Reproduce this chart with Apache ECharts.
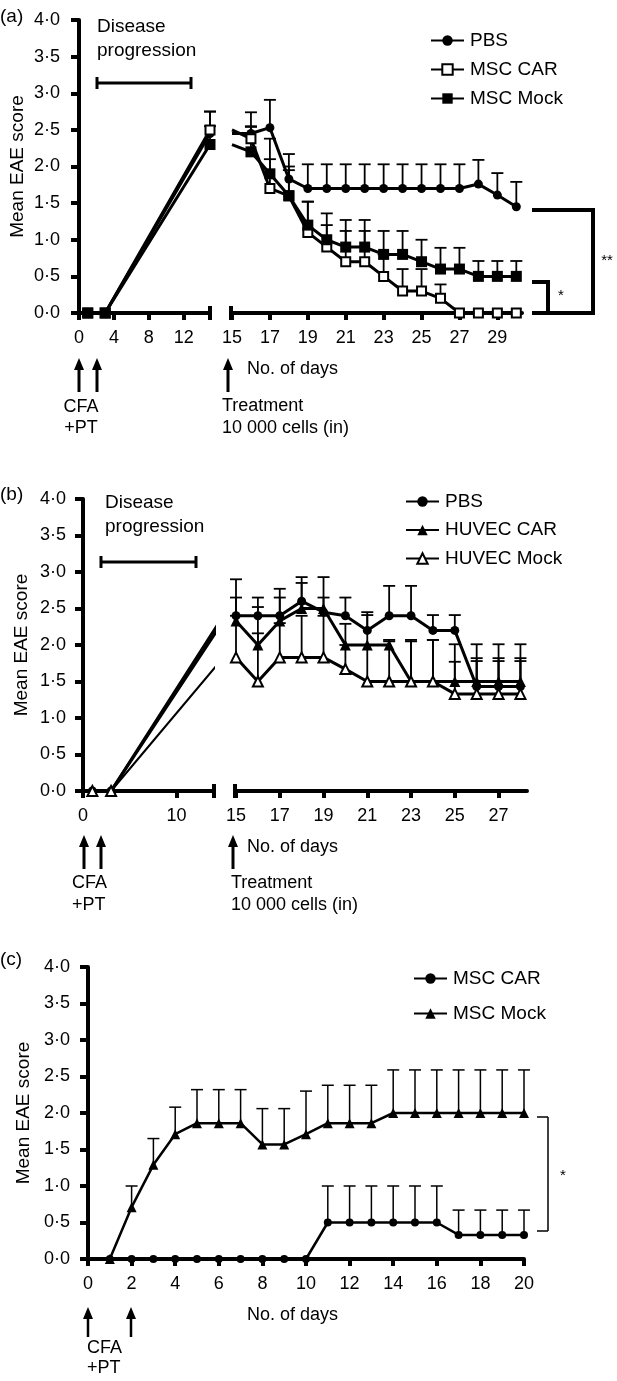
<!DOCTYPE html>
<html><head><meta charset="utf-8">
<script src="https://cdn.jsdelivr.net/npm/echarts@6/dist/echarts.min.js"></script>
<style>html,body{margin:0;padding:0;background:#fff}#c{width:617px;height:1381px}</style>
</head><body><div id="c"></div>
<script>
const FONT = '"Liberation Sans", Arial, Helvetica, sans-serif';

// ---------------- Panel (a) ----------------
const aDaysL = [1, 3, 15];
const aPBSL  = [0, 0, 2.45];
const aCARL  = [0, 0, 2.5];
const aMockL = [0, 0, 2.3];
const aPBSLErr  = [null, null, 2.75];
const aCARLErr  = [null, null, 2.75];
const aMockLErr = [null, null, 2.55];
const aDaysR = [15, 16, 17, 18, 19, 20, 21, 22, 23, 24, 25, 26, 27, 28, 29, 30];
const aPBSR  = [2.45, 2.45, 2.53, 1.83, 1.7, 1.7, 1.7, 1.7, 1.7, 1.7, 1.7, 1.7, 1.7, 1.76, 1.61, 1.45];
const aPBSRErr = [null, 2.74, 2.91, 2.17, 2.03, 2.03, 2.03, 2.03, 2.03, 2.03, 2.03, 2.03, 2.03, 2.09, 1.91, 1.79];
const aCARR  = [2.5, 2.38, 1.7, 1.6, 1.1, 0.9, 0.7, 0.7, 0.5, 0.3, 0.3, 0.2, 0, 0, 0, 0];
const aCARRErr = [null, 2.54, 2.1, 1.95, 1.52, 1.2, 1.12, 1.12, 0.8, 0.6, 0.6, 0.39, null, null, null, null];
const aMockR = [2.3, 2.2, 1.9, 1.6, 1.2, 1.0, 0.9, 0.9, 0.8, 0.8, 0.7, 0.6, 0.6, 0.5, 0.5, 0.5];
const aMockRErr = [null, 2.55, 2.38, 2.0, 1.52, 1.36, 1.27, 1.27, 1.12, 1.12, 1.0, 0.89, 0.89, 0.71, 0.71, 0.71];
const aTicksL = [0, 4, 8, 12];
const aTicksR = [15, 17, 19, 21, 23, 25, 27, 29];

// ---------------- Panel (b) ----------------
const bDaysL = [1, 3, 15];
const bPBSL  = [0, 0, 2.4];
const bCARL  = [0, 0, 2.33];
const bMockL = [0, 0, 1.83];
const bDaysR = [15, 16, 17, 18, 19, 20, 21, 22, 23, 24, 25, 26, 27, 28];
const bPBSR  = [2.4, 2.4, 2.4, 2.6, 2.45, 2.4, 2.2, 2.4, 2.4, 2.2, 2.2, 1.43, 1.43, 1.43];
const bPBSRErr = [2.9, 2.65, 2.77, 2.93, 2.93, 2.65, 2.45, 2.81, 2.81, 2.41, 2.41, 2.01, 2.01, 2.01];
const bCARR  = [2.33, 2.0, 2.33, 2.5, 2.5, 2.0, 2.0, 2.0, 1.5, 1.5, 1.5, 1.5, 1.5, 1.5];
const bCARRErr = [2.65, 2.52, 2.65, 2.85, 2.65, 2.29, 2.41, 2.07, 2.07, 2.07, 1.77, 1.82, 1.82, 1.82];
const bMockR = [1.83, 1.5, 1.83, 1.83, 1.83, 1.67, 1.5, 1.5, 1.5, 1.5, 1.33, 1.33, 1.33, 1.33];
const bMockRErr = [2.4, 2.16, 2.3, 2.4, 2.4, 2.0, 2.0, 2.05, 2.05, 2.07, 2.01, 1.78, 1.78, 1.78];
const bTicksL = [0, 10];
const bTicksR = [15, 17, 19, 21, 23, 25, 27];

// ---------------- Panel (c) ----------------
const cDays = [1, 2, 3, 4, 5, 6, 7, 8, 9, 10, 11, 12, 13, 14, 15, 16, 17, 18, 19, 20];
const cCAR  = [0, 0, 0, 0, 0, 0, 0, 0, 0, 0, 0.5, 0.5, 0.5, 0.5, 0.5, 0.5, 0.33, 0.33, 0.33, 0.33];
const cCARErr = [null, null, null, null, null, null, null, null, null, null, 1.0, 1.0, 1.0, 1.0, 1.0, 1.0, 0.67, 0.67, 0.67, 0.67];
const cMock = [0, 0.71, 1.29, 1.71, 1.86, 1.86, 1.86, 1.57, 1.57, 1.71, 1.86, 1.86, 1.86, 2.0, 2.0, 2.0, 2.0, 2.0, 2.0, 2.0];
const cMockErr = [null, 1.0, 1.65, 2.08, 2.32, 2.32, 2.32, 2.06, 2.06, 2.3, 2.38, 2.38, 2.38, 2.59, 2.59, 2.59, 2.59, 2.59, 2.59, 2.59];

const yLabels = v => v.toFixed(1).replace('.', '\u00B7');

// ---------- grids & axes ----------
const grids = [
  {left: 79, top: 20, width: 131, height: 293},    // a left
  {left: 232, top: 20, width: 290, height: 293},   // a right
  {left: 83, top: 499, width: 131, height: 292},   // b left
  {left: 236, top: 499, width: 291, height: 292},  // b right
  {left: 88, top: 967, width: 436, height: 292}    // c
];
const AXW = 4;
function xAx(gi, min, max, ticks) {
  return {type: 'value', gridIndex: gi, min, max,
    axisLine: {show: true, lineStyle: {color: '#000', width: AXW}},
    axisTick: {show: true, length: 7, lineStyle: {color: '#000', width: AXW}, customValues: ticks},
    axisLabel: {show: true, customValues: ticks, color: '#000', fontSize: 18, fontFamily: FONT, margin: 16},
    splitLine: {show: false}};
}
function yAx(gi, show, margin) {
  return {type: 'value', gridIndex: gi, min: 0, max: 4, interval: 0.5,
    name: show ? 'Mean EAE score' : '', nameLocation: 'middle', nameGap: 52,
    nameTextStyle: {color: '#000', fontSize: 19, fontFamily: FONT},
    axisLine: {show: show, lineStyle: {color: '#000', width: AXW}},
    axisTick: {show: show, length: 8, lineStyle: {color: '#000', width: AXW}},
    axisLabel: {show: show, color: '#000', fontSize: 18, fontFamily: FONT, margin: margin || 19, formatter: yLabels},
    splitLine: {show: false}};
}
const xAxes = [
  xAx(0, 0, 15, aTicksL), xAx(1, 15, 30.3, aTicksR),
  xAx(2, 0, 14, bTicksL), xAx(3, 15, 28.3, bTicksR),
  Object.assign(xAx(4, 0, 20, null), {interval: 2, axisTick: {show: true, length: 7, lineStyle: {color: '#000', width: AXW}}, axisLabel: {color: '#000', fontSize: 18, fontFamily: FONT, margin: 16}})
];
const yAxes = [yAx(0, true, 19), yAx(1, false), yAx(2, true, 17), yAx(3, false), yAx(4, true, 18)];

// ---------- series helpers ----------
function line(name, gi, days, vals, symbol, size, lw, hideFirst) {
  const empty = symbol.indexOf('empty') === 0;
  return {type: 'line', name, xAxisIndex: gi, yAxisIndex: gi, z: 3,
    data: days.map((d, i) => (hideFirst && i === 0) ? {value: [d, vals[i]], symbol: 'none'} : [d, vals[i]]),
    symbol, symbolSize: size, showAllSymbol: true, animation: false,
    lineStyle: {color: '#000', width: lw},
    itemStyle: {color: '#000', borderColor: '#000', borderWidth: empty ? 2.6 : 0},
    emphasis: {disabled: true}};
}
function errRender(lw, hw) {
  return function (params, api) {
    const x = api.value(0), v = api.value(1), t = api.value(2);
    const p0 = api.coord([x, v]), p1 = api.coord([x, t]);
    return {type: 'group', children: [
      {type: 'line', shape: {x1: p0[0], y1: p0[1], x2: p1[0], y2: p1[1]}, style: {stroke: '#000', lineWidth: lw}},
      {type: 'line', shape: {x1: p1[0] - hw, y1: p1[1], x2: p1[0] + hw, y2: p1[1]}, style: {stroke: '#000', lineWidth: lw}}
    ]};
  };
}
function err(gi, days, vals, tops, lw, hw) {
  const data = [];
  days.forEach((d, i) => { if (tops[i] != null) data.push([d, vals[i], tops[i]]); });
  return {type: 'custom', xAxisIndex: gi, yAxisIndex: gi, z: 2, animation: false, silent: true,
    encode: {x: 0, y: [1, 2]}, data, renderItem: errRender(lw || 1.8, hw || 6)};
}

const series = [
  // (a)
  err(0, aDaysL, aPBSL, aPBSLErr), err(0, aDaysL, aCARL, aCARLErr), err(0, aDaysL, aMockL, aMockLErr),
  line('a:PBS', 0, aDaysL, aPBSL, 'circle', 9, 3),
  line('a:MSC CAR', 0, aDaysL, aCARL, 'emptyRect', 9, 3),
  line('a:MSC Mock', 0, aDaysL, aMockL, 'rect', 11, 3),
  err(1, aDaysR, aPBSR, aPBSRErr), err(1, aDaysR, aCARR, aCARRErr), err(1, aDaysR, aMockR, aMockRErr),
  line('a:PBS', 1, aDaysR, aPBSR, 'circle', 9, 3, true),
  line('a:MSC CAR', 1, aDaysR, aCARR, 'emptyRect', 9, 3, true),
  line('a:MSC Mock', 1, aDaysR, aMockR, 'rect', 11, 3, true),
  // (b)
  line('b:PBS', 2, bDaysL, bPBSL, 'circle', 9, 3),
  line('b:HUVEC CAR', 2, bDaysL, bCARL, 'triangle', 11, 3),
  line('b:HUVEC Mock', 2, bDaysL, bMockL, 'emptyTriangle', 10, 2),
  err(3, bDaysR, bPBSR, bPBSRErr), err(3, bDaysR, bCARR, bCARRErr), err(3, bDaysR, bMockR, bMockRErr),
  line('b:PBS', 3, bDaysR, bPBSR, 'circle', 9, 3),
  line('b:HUVEC CAR', 3, bDaysR, bCARR, 'triangle', 11, 3),
  line('b:HUVEC Mock', 3, bDaysR, bMockR, 'emptyTriangle', 10, 3),
  // (c)
  err(4, cDays, cCAR, cCARErr, 1.5, 6), err(4, cDays, cMock, cMockErr, 1.5, 6),
  line('c:MSC CAR', 4, cDays, cCAR, 'circle', 8, 2.5),
  line('c:MSC Mock', 4, cDays, cMock, 'triangle', 10, 2.5)
];

// ---------- legends ----------
function legend(names, left, top, gap) {
  return {data: names, orient: 'vertical', left, top, itemWidth: 33, itemHeight: 13, itemGap: gap,
    padding: 0, selectedMode: false, align: 'left',
    formatter: n => n.slice(2),
    textStyle: {color: '#000', fontSize: 19, fontFamily: FONT, padding: [0, 0, 0, 1]}};
}
const legends = [
  legend(['a:PBS', 'a:MSC CAR', 'a:MSC Mock'], 430, 31, 10),
  legend(['b:PBS', 'b:HUVEC CAR', 'b:HUVEC Mock'], 405, 492, 9.5),
  legend(['c:MSC CAR', 'c:MSC Mock'], 413, 969, 16)
];

// ---------- annotations ----------
const G = [];
function txt(t, x, y, size, align) {
  G.push({type: 'text', x, y, z: 10, style: {text: t, fill: '#000', font: size + 'px ' + FONT,
    textAlign: align || 'left', textVerticalAlign: 'middle', align: align || 'left', verticalAlign: 'middle'}});
}
function seg(x1, y1, x2, y2, w) {
  G.push({type: 'line', z: 10, shape: {x1, y1, x2, y2}, style: {stroke: '#000', lineWidth: w}});
}
function arrow(x, yTip, yBot, w) {
  G.push({type: 'polygon', z: 10, shape: {points: [[x, yTip], [x - 5, yTip + 12], [x + 5, yTip + 12]]}, style: {fill: '#000'}});
  seg(x, yTip + 8, x, yBot, w);
}
function bracketH(x1, x2, y) { seg(x1, y, x2, y, 3); seg(x1, y - 6, x1, y + 6, 3); seg(x2, y - 6, x2, y + 6, 3); }

// panel (a)
txt('(a)', 0, 17, 19);
txt('Disease', 97, 27, 19); txt('progression', 97, 51, 19);
bracketH(97, 191, 83);
seg(210, 306, 210, 320, 4); seg(231, 306, 231, 320, 4);
arrow(79, 358, 392, 3); arrow(97, 358, 392, 3); arrow(228, 358, 392, 3);
txt('No. of days', 247, 369, 18);
txt('CFA', 81, 407, 18, 'center'); txt('+PT', 81, 428, 18, 'center');
txt('Treatment', 222, 406, 18); txt('10 000 cells (in)', 222, 428, 18);
seg(532, 210, 595, 210, 4); seg(532, 313, 595, 313, 4); seg(593, 208, 593, 315, 4);
seg(532, 282, 550, 282, 4); seg(548, 280, 548, 313, 4);
txt('**', 607, 261, 15, 'center'); txt('*', 561, 296, 15, 'center');

// panel (b)
txt('(b)', 0, 495, 19);
txt('Disease', 105, 503, 19); txt('progression', 105, 527, 19);
bracketH(101, 196, 562);
seg(214, 784, 214, 798, 4); seg(235, 784, 235, 798, 4);
arrow(84, 835, 869, 3); arrow(101, 835, 869, 3); arrow(233, 835, 869, 3);
txt('No. of days', 247, 847, 18);
txt('CFA', 72, 883, 18); txt('+PT', 72, 905, 18);
txt('Treatment', 231, 883, 18); txt('10 000 cells (in)', 231, 905, 18);

// panel (c)
txt('(c)', 0, 960, 19);
arrow(88, 1307, 1337, 2.5); arrow(131, 1307, 1337, 2.5);
txt('CFA', 87, 1348, 18); txt('+PT', 87, 1368, 18);
txt('No. of days', 247, 1315, 18);
seg(548, 1117, 548, 1231, 1.5); seg(537, 1117, 548, 1117, 1.5); seg(537, 1231, 548, 1231, 1.5);
txt('*', 563, 1176, 15, 'center');

const chart = echarts.init(document.getElementById('c'), null, {renderer: 'canvas'});
chart.setOption({
  animation: false,
  backgroundColor: '#fff',
  textStyle: {fontFamily: FONT},
  grid: grids, xAxis: xAxes, yAxis: yAxes,
  legend: legends, series, graphic: G
});
</script></body></html>
